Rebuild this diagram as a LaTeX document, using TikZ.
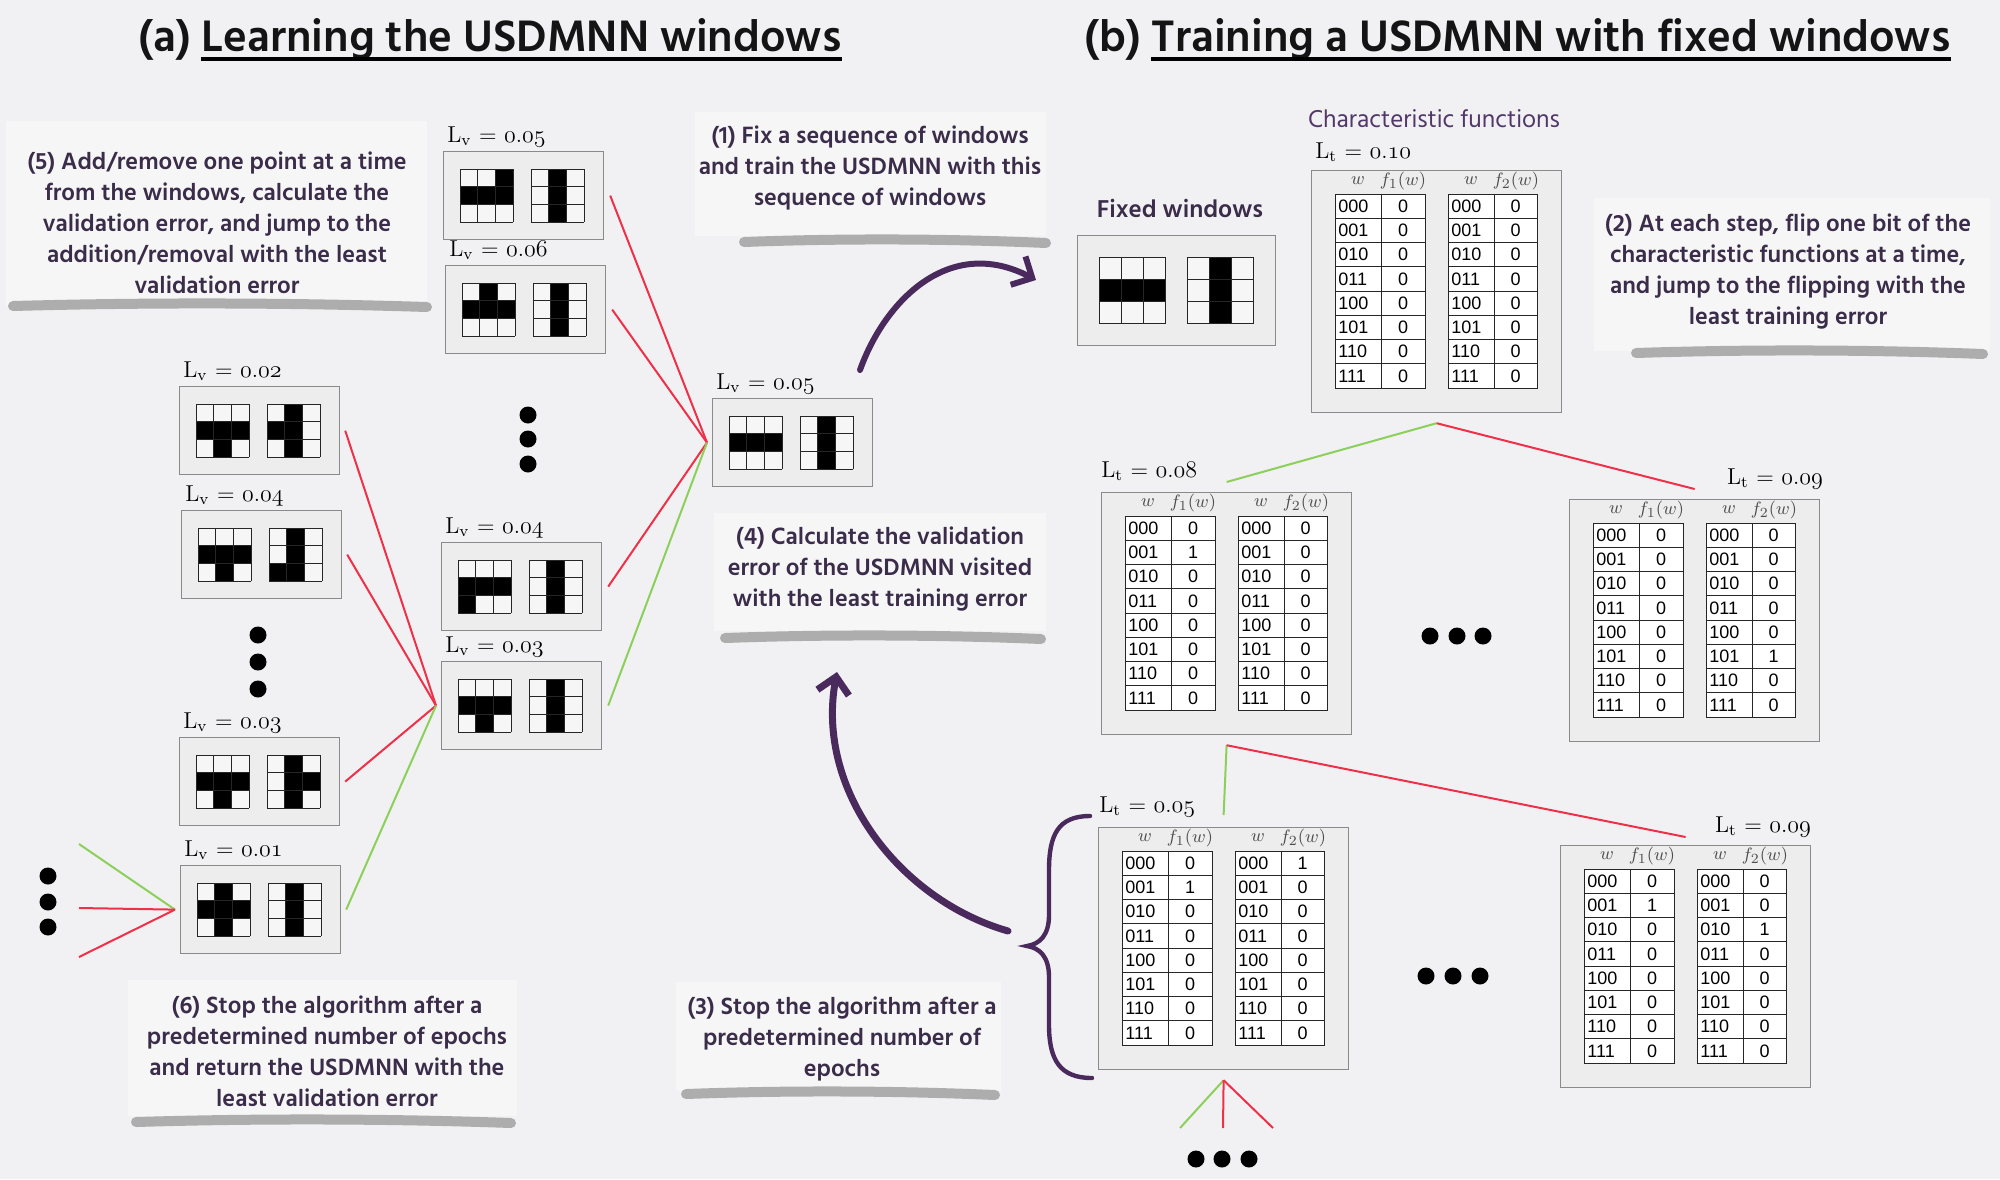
\documentclass[tikz,border=0pt]{standalone}
\usepackage{fontspec}
\usetikzlibrary{arrows.meta,calc}
\newfontfamily\hindf{Hind Siliguri}
\newfontfamily\tabf{Liberation Sans}
\definecolor{bgc}{HTML}{F1F1F3}
\definecolor{boxbg}{HTML}{EDEDED}
\definecolor{boxline}{HTML}{8A8A8A}
\definecolor{cellbg}{HTML}{F6F6F6}
\definecolor{txtpurple}{HTML}{3B2D4A}
\definecolor{charpurple}{HTML}{523868}
\definecolor{arrowpurple}{HTML}{4A2A5C}
\definecolor{redl}{HTML}{EF3049}
\definecolor{greenl}{HTML}{8CCF5A}
\definecolor{brushc}{HTML}{ADADAD}
\tikzset{
 wbox/.style={draw=boxline, fill=boxbg, line width=0.6pt, minimum width=80pt, minimum height=44pt, inner sep=0pt, anchor=north west},
 fbox/.style={draw=boxline, fill=boxbg, line width=0.6pt, minimum width=99pt, minimum height=55pt, inner sep=0pt, anchor=north west},
 tabbox/.style={draw=boxline, fill=boxbg, line width=0.6pt, minimum width=125pt, minimum height=121pt, inner sep=0pt, anchor=north west},
 lbl/.style={anchor=base west, inner sep=0pt, font=\fontsize{11.5}{13}\selectfont},
 lblr/.style={anchor=base east, inner sep=0pt, font=\fontsize{11.5}{13}\selectfont},
 gline/.style={line width=0.45pt, draw=black!85},
 tline/.style={line width=0.45pt, draw=black!85},
 ttxt/.style={inner sep=0pt, font=\tabf\fontsize{9}{10}\selectfont},
 thead/.style={inner sep=0pt, font=\fontsize{9.5}{10}\selectfont, text=black!70},
 redc/.style={draw=redl, line width=1pt},
 greenc/.style={draw=greenl, line width=1pt},
 callout/.style={align=center, text=txtpurple, font=\hindf\bfseries\fontsize{12.1}{15.5}\selectfont, inner sep=0pt},
 calloutbg/.style={fill=white, opacity=0.4},
 brush/.style={draw=brushc, line width=5pt, line cap=round},
 dotn/.style={circle, fill=black, minimum size=8.5pt, inner sep=0pt},
 parrow/.style={draw=arrowpurple, line width=3pt, line cap=round, -{Straight Barb[length=8pt,width=16pt]}},
 titlef/.style={anchor=base west, inner sep=0pt, font=\hindf\bfseries\fontsize{22.6}{26}\selectfont, text=black!92},
}
\newcommand{\osn}[2]{\legacyoldstylenums{#1}.\legacyoldstylenums{#2}}
\newcommand{\lvlab}[2]{L\textsubscript{v} = \osn{#1}{#2}}
\newcommand{\ltlab}[2]{L\textsubscript{t} = \osn{#1}{#2}}
\newcommand{\wgrid}[4]{%
 \fill[cellbg] ({#1},{#2}) rectangle ({#1+3*#3},{#2+3*#3});
 \foreach \v [count=\i from 0] in {#4}{%
   \pgfmathtruncatemacro{\wgr}{int(\i/3)}%
   \pgfmathtruncatemacro{\wgc}{mod(\i,3)}%
   \ifnum\v=1 \fill[black] ({#1+\wgc*#3},{#2+\wgr*#3}) rectangle ({#1+(\wgc+1)*#3},{#2+(\wgr+1)*#3});\fi
 }
 \foreach \k in {0,1,2,3}{%
   \draw[gline] ({#1+\k*#3},{#2}) -- ({#1+\k*#3},{#2+3*#3});
   \draw[gline] ({#1},{#2+\k*#3}) -- ({#1+3*#3},{#2+\k*#3});
 }
}
\newcommand{\wbox}[6]{%
  \node[wbox] (#1) at (#2,#3) {};
  \wgrid{#2+17}{#3+18}{17.7}{#4}
  \wgrid{#2+88}{#3+18}{17.7}{#5}
  \node[lbl] (#1-l) at ($(#1.north west)+(4,-9)$) {\lvlab{0}{#6}};
}
\newcommand{\ctab}[4]{%
  \node[tabbox] (#1) at (#2,#3) {};
  \begin{scope}[shift={(#2,#3)}]
   \node[thead] at (47,11) {$w$};
   \node[thead] at (92,11) {$f_1(w)$};
   \node[thead] at (160,11) {$w$};
   \node[thead] at (205,11) {$f_2(w)$};
   \foreach \lab/\fa/\fb [count=\i from 0] in {#4}{%
     \pgfmathsetmacro{\ty}{24+\i*24.25}
     \draw[tline, fill=white] (24,\ty) rectangle (70,\ty+24.25);
     \draw[tline, fill=white] (70,\ty) rectangle (114,\ty+24.25);
     \draw[tline, fill=white] (137,\ty) rectangle (183,\ty+24.25);
     \draw[tline, fill=white] (183,\ty) rectangle (226,\ty+24.25);
     \node[ttxt, anchor=west] at (27,\ty+12.1) {\lab};
     \node[ttxt] at (92,\ty+12.1) {\fa};
     \node[ttxt, anchor=west] at (140,\ty+12.1) {\lab};
     \node[ttxt] at (204.5,\ty+12.1) {\fb};
   }
  \end{scope}
}
\newcommand{\brushline}[3]{%
  \draw[brush] (#1,#3) .. controls ({#1+(#2-#1)*0.35},{#3-4}) and ({#1+(#2-#1)*0.7},{#3-3}) .. (#2,{#3+1});
}
\begin{document}
\begin{tikzpicture}[x=0.5pt,y=-0.5pt]
\useasboundingbox (0,0) rectangle (2000,1179);
\fill[bgc] (0,0) rectangle (2000,1179);

% titles
\node[titlef] (ta1) at (138,51) {(a)};
\node[titlef] (ta2) at ($(ta1.base east)+(10,0)$) {Learning the USDMNN windows};
\draw[line width=2pt] ([yshift=-4pt]ta2.base west) -- ([yshift=-4pt]ta2.base east);
\node[titlef] (tb1) at (1084,51) {(b)};
\node[titlef] (tb2) at ($(tb1.base east)+(10,0)$) {Training a USDMNN with fixed windows};
\draw[line width=2pt] ([yshift=-4pt]tb2.base west) -- ([yshift=-4pt]tb2.base east);

% callouts backgrounds
\fill[calloutbg] (6,121) rectangle (427,306);
\fill[calloutbg] (695,112) rectangle (1046,236);
\fill[calloutbg] (714,513) rectangle (1046,631);
\fill[calloutbg] (1594,198) rectangle (1990,351);
\fill[calloutbg] (676,982) rectangle (1001,1091);
\fill[calloutbg] (128,980) rectangle (517,1116);
\brushline{13}{427}{306}
\brushline{744}{1046}{242}
\brushline{725}{1041}{638}
\brushline{1636}{1983}{353}
\brushline{686}{995}{1094}
\brushline{136}{511}{1122}

\node[callout] (c5) at (217,223) {(5) Add/remove one point at a time\\from the windows, calculate the\\validation error, and jump to the\\addition/removal with the least\\validation error};
\node[callout] (c1) at (870,168) {(1) Fix a sequence of windows\\and train the USDMNN with this\\sequence of windows};
\node[callout] (c4) at (880,569) {(4) Calculate the validation\\error of the USDMNN visited\\with the least training error};
\node[callout] (c2) at (1788,272) {(2) At each step, flip one bit of the\\characteristic functions at a time,\\and jump to the flipping with the\\least training error};
\node[callout] (c3) at (842,1039) {(3) Stop the algorithm after a\\predetermined number of\\epochs};
\node[callout] (c6) at (327,1051) {(6) Stop the algorithm after a\\predetermined number of epochs\\and return the USDMNN with the\\least validation error};

% window boxes, left column
\wbox{l02}{179}{386}{0,0,0,1,1,1,0,1,0}{0,1,0,1,1,0,0,1,0}{02}
\wbox{l04}{181}{510}{0,0,0,1,1,1,0,1,0}{0,1,0,0,1,0,1,1,0}{04}
\wbox{l03}{179}{737}{0,0,0,1,1,1,0,1,0}{0,1,0,0,1,1,0,1,0}{03}
\wbox{l01}{180}{865}{0,1,0,1,1,1,0,1,0}{0,1,0,0,1,0,0,1,0}{01}
% middle column
\wbox{m05}{443}{151}{0,0,1,1,1,1,0,0,0}{0,1,0,0,1,0,0,1,0}{05}
\wbox{m06}{445}{265}{0,1,0,1,1,1,0,0,0}{0,1,0,0,1,0,0,1,0}{06}
\wbox{m04}{441}{542}{0,0,0,1,1,1,1,0,0}{0,1,0,0,1,0,0,1,0}{04}
\wbox{m03}{441}{661}{0,0,0,1,1,1,0,1,0}{0,1,0,0,1,0,0,1,0}{03}
% central
\wbox{c05}{712}{398}{0,0,0,1,1,1,0,0,0}{0,1,0,0,1,0,0,1,0}{05}

% fixed windows
\node[text=txtpurple, font=\hindf\bfseries\fontsize{12.5}{14}\selectfont, inner sep=0pt] (fwt) at (1180,208) {Fixed windows};
\node[fbox] (fw) at (1077,235) {};
\wgrid{1099}{257}{22.3}{0,0,0,1,1,1,0,0,0}
\wgrid{1187}{257}{22.3}{0,1,0,0,1,0,0,1,0}

% characteristic functions
\node[text=charpurple, font=\hindf\fontsize{12.5}{14}\selectfont, inner sep=0pt] (cft) at (1434,119) {Characteristic functions};

% tables
\ctab{t10}{1311}{170}{000/0/0,001/0/0,010/0/0,011/0/0,100/0/0,101/0/0,110/0/0,111/0/0}
\node[lbl] (t10-l) at ($(t10.north west)+(4,-12)$) {\ltlab{0}{10}};
\ctab{t08}{1101}{492}{000/0/0,001/1/0,010/0/0,011/0/0,100/0/0,101/0/0,110/0/0,111/0/0}
\node[lbl] (t08-l) at ($(t08.north west)+(0,-15)$) {\ltlab{0}{08}};
\ctab{t09a}{1569}{499}{000/0/0,001/0/0,010/0/0,011/0/0,100/0/0,101/0/1,110/0/0,111/0/0}
\node[lblr] (t09a-l) at ($(t09a.north east)+(3,-15)$) {\ltlab{0}{09}};
\ctab{t05}{1098}{827}{000/0/1,001/1/0,010/0/0,011/0/0,100/0/0,101/0/0,110/0/0,111/0/0}
\node[lbl] (t05-l) at ($(t05.north west)+(1,-15)$) {\ltlab{0}{05}};
\ctab{t09b}{1560}{845}{000/0/0,001/1/0,010/0/1,011/0/0,100/0/0,101/0/0,110/0/0,111/0/0}
\node[lblr] (t09b-l) at ($(t09b.north east)+(0,-13)$) {\ltlab{0}{09}};

% dots
\node[dotn] (ld1) at (48,876) {};
\node[dotn] (ld2) at (48,902) {};
\node[dotn] (ld3) at (48,927) {};
\node[dotn] (cd1) at (258,635) {};
\node[dotn] (cd2) at (258,662) {};
\node[dotn] (cd3) at (258,689) {};
\node[dotn] (md1) at (528,415) {};
\node[dotn] (md2) at (528,439) {};
\node[dotn] (md3) at (528,464) {};
\node[dotn] (rd1) at (1430,636) {};
\node[dotn] (rd2) at (1457,636) {};
\node[dotn] (rd3) at (1483,636) {};
\node[dotn] (sd1) at (1426,976) {};
\node[dotn] (sd2) at (1453,976) {};
\node[dotn] (sd3) at (1480,976) {};
\node[dotn] (bd1) at (1196,1159) {};
\node[dotn] (bd2) at (1222,1159) {};
\node[dotn] (bd3) at (1249,1159) {};

% left connectors
\coordinate (e1) at (79,844);
\coordinate (e2) at (79,908);
\coordinate (e3) at (79,957);
\draw[greenc] (e1) -- ([xshift=-2.5pt]l01.west);
\draw[redc] (e2) -- ([xshift=-2.5pt]l01.west);
\draw[redc] (e3) -- ([xshift=-2.5pt]l01.west);
\draw[redc] ([xshift=2.5pt]l02.east) -- ([xshift=-2.5pt]m03.west);
\draw[redc] ([xshift=2.5pt]l04.east) -- ([xshift=-2.5pt]m03.west);
\draw[redc] ([xshift=2.5pt]l03.east) -- ([xshift=-2.5pt]m03.west);
\draw[greenc] ([xshift=2.5pt]l01.east) -- ([xshift=-2.5pt]m03.west);
\draw[redc] ([xshift=3pt]m05.east) -- ([xshift=-2.5pt]c05.west);
\draw[redc] ([xshift=3pt]m06.east) -- ([xshift=-2.5pt]c05.west);
\draw[redc] ([xshift=3pt]m04.east) -- ([xshift=-2.5pt]c05.west);
\draw[greenc] ([xshift=3pt]m03.east) -- ([xshift=-2.5pt]c05.west);

% table connectors
\draw[greenc] ([yshift=-5pt]t10.south) -- ([yshift=5pt]t08.north);
\draw[redc] ([yshift=-5pt]t10.south) -- ([yshift=5pt]t09a.north);
\draw[greenc] ([yshift=-5pt]t08.south) -- ([yshift=6pt]t05.north);
\draw[redc] ([yshift=-5pt]t08.south) -- ([yshift=4pt]t09b.north);
\coordinate (bl) at (1180,1128);
\coordinate (bm) at (1223,1128);
\coordinate (br) at (1273,1128);
\draw[greenc] ([yshift=-5pt]t05.south) -- (bl);
\draw[redc] ([yshift=-5pt]t05.south) -- (bm);
\draw[redc] ([yshift=-5pt]t05.south) -- (br);

% brace
\draw[draw=arrowpurple, line width=2.2pt, line cap=round] (1090,816) .. controls (1058,816) and (1049,835) .. (1049,870) -- (1049,915) .. controls (1049,935) and (1040,944) .. (1027,946) .. controls (1040,948) and (1049,957) .. (1049,977) -- (1049,1025) .. controls (1049,1060) and (1060,1078) .. (1092,1078);

% purple arrows
\coordinate (a1s) at (860,370);
\coordinate (a1e) at (1036,280);
\draw[parrow] (a1s) .. controls (885,300) and (950,235) .. (a1e);
\coordinate (a2s) at (1008,931);
\coordinate (a2e) at (837,672);
\draw[parrow, line width=3.5pt] (a2s) .. controls (900,900) and (815,790) .. (a2e);
\end{tikzpicture}
\end{document}
